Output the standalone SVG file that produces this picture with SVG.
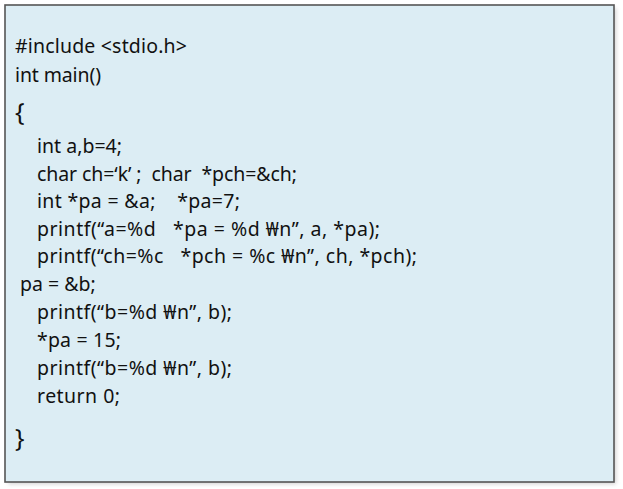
<svg xmlns="http://www.w3.org/2000/svg" width="623" height="489" viewBox="0 0 623 489">
  <defs>
    <filter id="shadow" x="-5%" y="-5%" width="110%" height="110%">
      <feGaussianBlur stdDeviation="2"/>
    </filter>
    <style>
      .code { font-family: "Noto Sans", "Open Sans", "Noto Sans CJK KR", sans-serif; font-size: 19.5px; fill: #111; white-space: pre; }
      .brace { font-family: "Noto Sans", "Open Sans", sans-serif; font-size: 25px; fill: #111; }
    </style>
  </defs>
  <rect width="623" height="489" fill="#ffffff"/>
  <g id="panel">
    <rect x="8" y="8" width="608" height="476" fill="#b0b0b0" opacity="0.6" filter="url(#shadow)"/>
    <rect x="5" y="5" width="609" height="477" fill="#DCEDF4" stroke="#555555" stroke-width="1.6"/>
  </g>
  <g id="code" xml:space="preserve">
    <text class="code" x="15" y="53" textLength="172" lengthAdjust="spacing">#include &lt;stdio.h&gt;</text>
    <text class="code" x="15" y="82" textLength="86" lengthAdjust="spacing">int main()</text>
    <text class="brace" x="15" y="121">{</text>
    <text class="code" x="37" y="153" textLength="85" lengthAdjust="spacing">int a,b=4;</text>
    <text class="code" x="37" y="181" textLength="260" lengthAdjust="spacing">char ch=‘k’ ;  char  *pch=&amp;ch;</text>
    <text class="code" x="37" y="208" textLength="203" lengthAdjust="spacing">int *pa = &amp;a;    *pa=7;</text>
    <text class="code" x="37" y="236" textLength="343" lengthAdjust="spacing">printf(“a=%d   *pa = %d ₩n”, a, *pa);</text>
    <text class="code" x="37" y="263" textLength="380" lengthAdjust="spacing">printf(“ch=%c   *pch = %c ₩n”, ch, *pch);</text>
    <text class="code" x="20" y="291">pa = &amp;b;</text>
    <text class="code" x="37" y="319" textLength="195" lengthAdjust="spacing">printf(“b=%d ₩n”, b);</text>
    <text class="code" x="37" y="347" textLength="84" lengthAdjust="spacing">*pa = 15;</text>
    <text class="code" x="37" y="375" textLength="195" lengthAdjust="spacing">printf(“b=%d ₩n”, b);</text>
    <text class="code" x="37" y="403" textLength="83" lengthAdjust="spacing">return 0;</text>
    <text class="brace" x="15" y="447">}</text>
  </g>
</svg>
